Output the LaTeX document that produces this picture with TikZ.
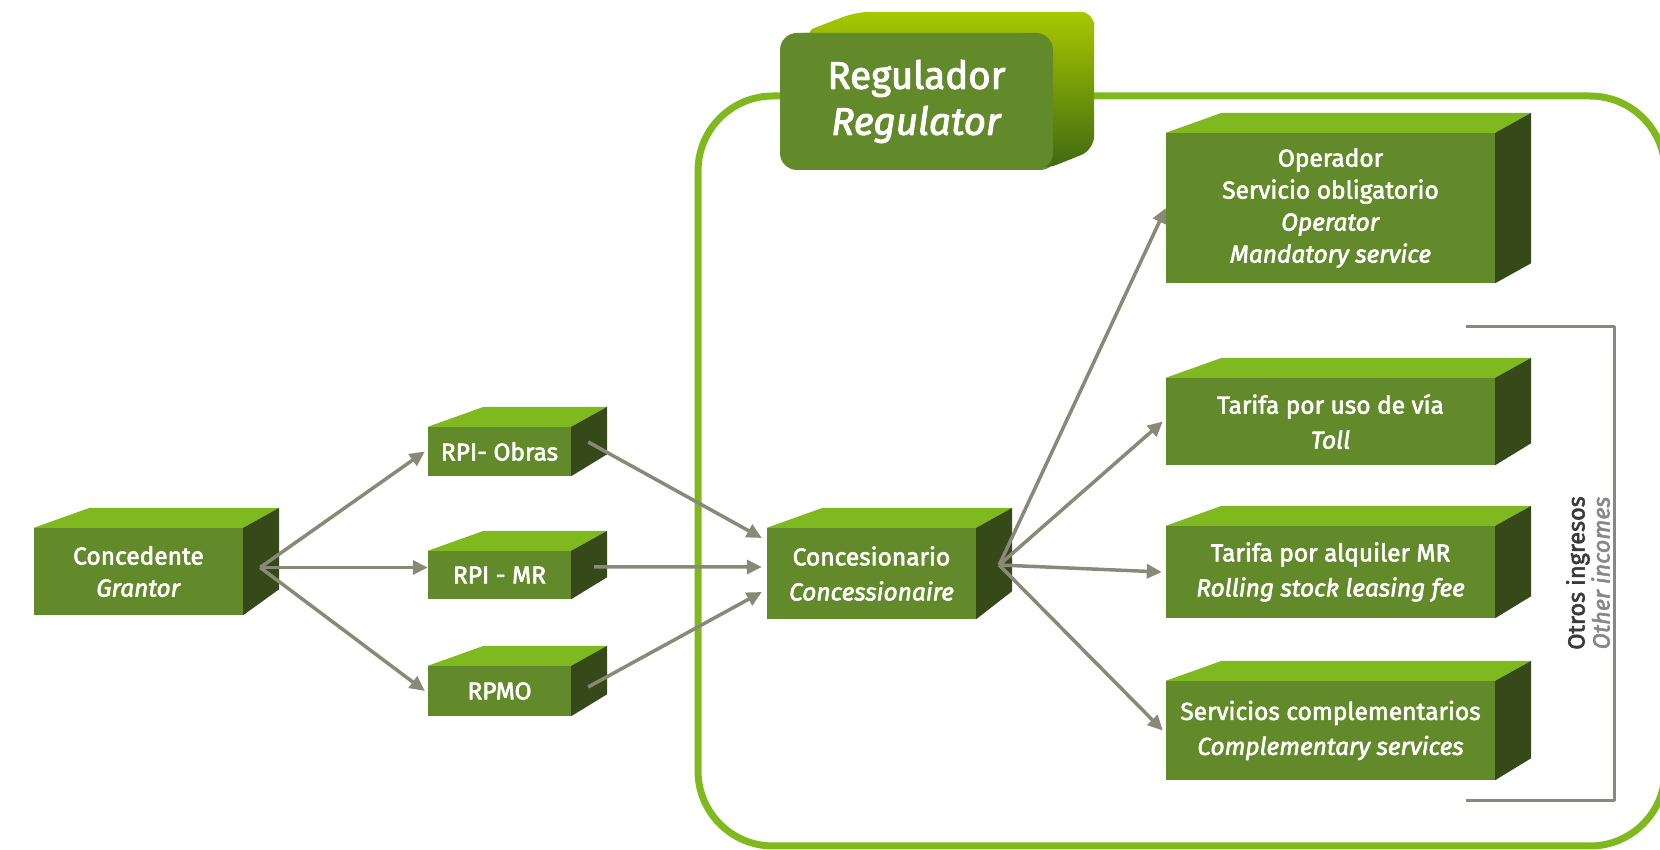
\documentclass[tikz,border=0pt]{standalone}
\usepackage{fontspec}
\setmainfont{Fira Sans}[UprightFeatures={FakeBold=2.5},ItalicFeatures={FakeBold=2.5}]
\usetikzlibrary{arrows.meta}

\definecolor{boxfront}{RGB}{98,138,42}
\definecolor{boxtop}{RGB}{128,184,32}
\definecolor{boxside}{RGB}{53,74,24}
\definecolor{regtop}{RGB}{168,200,0}
\definecolor{regmid}{RGB}{110,160,14}
\definecolor{regdark}{RGB}{62,104,18}
\definecolor{framegreen}{RGB}{128,185,30}
\definecolor{arrowgrey}{RGB}{138,136,118}
\definecolor{textgrey}{RGB}{58,58,58}
\definecolor{lightgrey}{RGB}{135,135,135}

\begin{document}
\begin{tikzpicture}[>={Triangle[length=15bp,width=14bp]},line join=bevel,
  box/.style={fill=boxfront,text=white,inner sep=0pt,align=center,
    font=\fontsize{24.5bp}{32bp}\selectfont},
  topface/.style={fill=boxtop},
  sideface/.style={fill=boxside},
  flow/.style={->,draw=arrowgrey,line width=3.5bp}]
\useasboundingbox (0bp,0bp) rectangle (1660bp,850bp);

% Frame: regulated area
\draw [framegreen,line width=7bp,rounded corners=75bp] (698bp,4bp) rectangle (1665bp,754bp);

% Node: regulator
\node[box,minimum width=273bp,minimum height=137bp,rounded corners=17bp] (regulator) at (920.5bp,748.5bp) {};
\shade[top color=regtop,middle color=regmid,bottom color=regdark,rounded corners=14bp]
  ([xshift=18bp]regulator.north west) -- ++(55bp,21bp)
  -- ([shift={(37bp,21bp)}]regulator.north east)
  -- ([shift={(37bp,-117bp)}]regulator.north east)
  -- ([xshift=-14bp]regulator.south east) -- cycle;
\node[box,minimum width=273bp,minimum height=137bp,rounded corners=17bp,
  font=\fontsize{38.5bp}{46bp}\selectfont] at ([xshift=-4bp]regulator) {Regulador\\\textit{Regulator}};

% Node: grantor
\node[box,minimum width=209bp,minimum height=87bp] (grantor) at (138.5bp,278.5bp) {Concedente\\\textit{Grantor}};
\fill[topface] (grantor.north west) -- ++(56bp,20bp) -- ([shift={(36bp,20bp)}]grantor.north east) -- (grantor.north east) -- cycle;
\fill[sideface] (grantor.north east) -- ++(36bp,20bp) -- ([shift={(36bp,26bp)}]grantor.south east) -- (grantor.south east) -- cycle;

% Node: obras
\node[box,minimum width=143bp,minimum height=49bp] (obras) at (499.5bp,398.5bp) {RPI- Obras};
\fill[topface] (obras.north west) -- ++(56bp,20bp) -- ([shift={(36bp,20bp)}]obras.north east) -- (obras.north east) -- cycle;
\fill[sideface] (obras.north east) -- ++(36bp,20bp) -- ([shift={(36bp,22bp)}]obras.south east) -- (obras.south east) -- cycle;

% Node: rpimr
\node[box,minimum width=143bp,minimum height=48bp] (rpimr) at (499.5bp,275bp) {RPI - MR};
\fill[topface] (rpimr.north west) -- ++(56bp,20bp) -- ([shift={(36bp,20bp)}]rpimr.north east) -- (rpimr.north east) -- cycle;
\fill[sideface] (rpimr.north east) -- ++(36bp,20bp) -- ([shift={(36bp,22bp)}]rpimr.south east) -- (rpimr.south east) -- cycle;

% Node: rpmo
\node[box,minimum width=143bp,minimum height=50bp] (rpmo) at (499.5bp,159bp) {RPMO};
\fill[topface] (rpmo.north west) -- ++(56bp,20bp) -- ([shift={(36bp,20bp)}]rpmo.north east) -- (rpmo.north east) -- cycle;
\fill[sideface] (rpmo.north east) -- ++(36bp,20bp) -- ([shift={(36bp,22bp)}]rpmo.south east) -- (rpmo.south east) -- cycle;

% Node: conc
\node[box,minimum width=209bp,minimum height=91bp] (conc) at (871.5bp,276.5bp) {Concesionario\\[3bp]\textit{Concessionaire}};
\fill[topface] (conc.north west) -- ++(56bp,20bp) -- ([shift={(36bp,20bp)}]conc.north east) -- (conc.north east) -- cycle;
\fill[sideface] (conc.north east) -- ++(36bp,20bp) -- ([shift={(36bp,28bp)}]conc.south east) -- (conc.south east) -- cycle;

% Node: oper
\node[box,minimum width=329bp,minimum height=150bp] (oper) at (1330.5bp,642bp) {Operador\\Servicio obligatorio\\\textit{Operator}\\\textit{Mandatory service}};
\fill[topface] (oper.north west) -- ++(56bp,20bp) -- ([shift={(36bp,20bp)}]oper.north east) -- (oper.north east) -- cycle;
\fill[sideface] (oper.north east) -- ++(36bp,20bp) -- ([shift={(36bp,20bp)}]oper.south east) -- (oper.south east) -- cycle;

% Node: toll
\node[box,minimum width=329bp,minimum height=87bp] (toll) at (1330.5bp,428.5bp) {Tarifa por uso de vía\\[3bp]\textit{Toll}};
\fill[topface] (toll.north west) -- ++(56bp,20bp) -- ([shift={(36bp,20bp)}]toll.north east) -- (toll.north east) -- cycle;
\fill[sideface] (toll.north east) -- ++(36bp,20bp) -- ([shift={(36bp,22bp)}]toll.south east) -- (toll.south east) -- cycle;

% Node: leasing
\node[box,minimum width=329bp,minimum height=92bp] (leasing) at (1330.5bp,278bp) {Tarifa por alquiler MR\\[3bp]\textit{Rolling stock leasing fee}};
\fill[topface] (leasing.north west) -- ++(56bp,20bp) -- ([shift={(36bp,20bp)}]leasing.north east) -- (leasing.north east) -- cycle;
\fill[sideface] (leasing.north east) -- ++(36bp,20bp) -- ([shift={(36bp,22bp)}]leasing.south east) -- (leasing.south east) -- cycle;

% Node: compl
\node[box,minimum width=329bp,minimum height=99bp] (compl) at (1330.5bp,119.5bp) {Servicios complementarios\\[3bp]\textit{Complementary services}};
\fill[topface] (compl.north west) -- ++(56bp,20bp) -- ([shift={(36bp,20bp)}]compl.north east) -- (compl.north east) -- cycle;
\fill[sideface] (compl.north east) -- ++(36bp,20bp) -- ([shift={(36bp,22bp)}]compl.south east) -- (compl.south east) -- cycle;

% Bracket: other incomes
\draw [arrowgrey,line width=3bp] (1466bp,523bp) -- (1614bp,523bp) -- (1614bp,49bp) -- (1466bp,49bp);
\node[rotate=90,align=center,text=textgrey,font=\fontsize{23.5bp}{25bp}\selectfont] (others) at (1588bp,277bp)
  {Otros ingresos\\\textcolor{lightgrey}{\textit{Other incomes}}};

\coordinate (grantor-out) at ([shift={(17bp,4bp)}]grantor.east);
\coordinate (conc-out) at ([shift={(23bp,8.5bp)}]conc.east);

% Edge: grantor -> obras
\draw [flow] (grantor-out) -- ([xshift=-3bp]obras.west);
% Edge: grantor -> rpimr
\draw [flow] (grantor-out) -- (grantor-out -| rpimr.west);
% Edge: grantor -> rpmo
\draw [flow] (grantor-out) -- ([xshift=-3bp]rpmo.west);

% Edge: obras -> conc
\draw [flow] ([shift={(17bp,9.5bp)}]obras.east) -- ([shift={(-5bp,35.5bp)}]conc.west);
% Edge: rpimr -> conc
\draw [flow] ([shift={(23bp,8bp)}]rpimr.east) -- ([shift={(-5bp,6.5bp)}]conc.west);
% Edge: rpmo -> conc
\draw [flow] ([shift={(17bp,4bp)}]rpmo.east) -- ([shift={(-5bp,-18.5bp)}]conc.west);

% Edge: conc -> oper
\draw [flow] (conc-out) -- (oper.west);
% Edge: conc -> toll
\draw [flow] (conc-out) -- ([xshift=-3bp]toll.west);
% Edge: conc -> leasing
\draw [flow] (conc-out) -- ([xshift=-4bp]leasing.west);
% Edge: conc -> compl
\draw [flow] (conc-out) -- ([xshift=-3bp]compl.west);

\end{tikzpicture}
\end{document}
